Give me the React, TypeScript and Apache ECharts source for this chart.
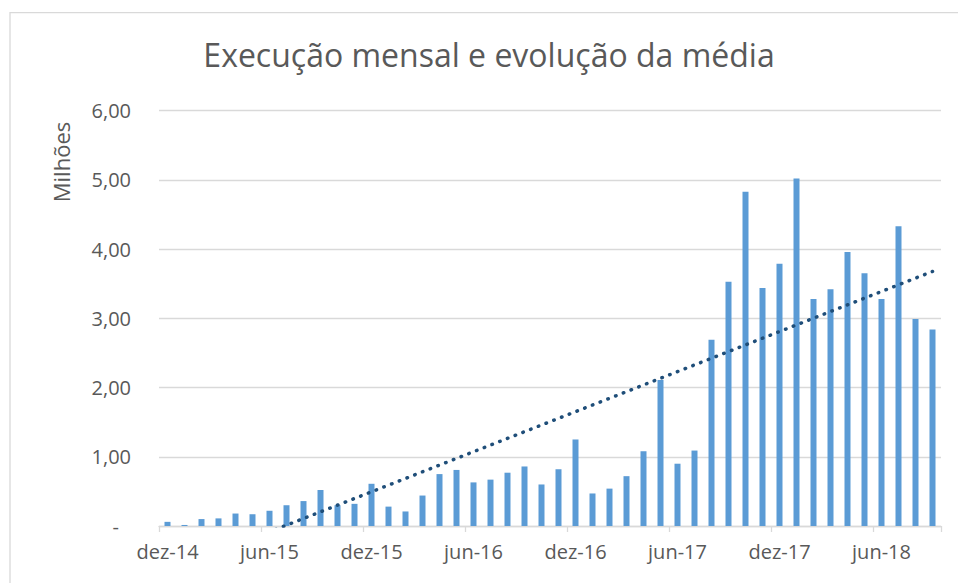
import React, { useEffect, useRef } from "react";
import * as echarts from "echarts";

const months = [
  "dez-14",
  "jan-15", "fev-15", "mar-15", "abr-15", "mai-15", "jun-15", "jul-15", "ago-15", "set-15", "out-15", "nov-15", "dez-15",
  "jan-16", "fev-16", "mar-16", "abr-16", "mai-16", "jun-16", "jul-16", "ago-16", "set-16", "out-16", "nov-16", "dez-16",
  "jan-17", "fev-17", "mar-17", "abr-17", "mai-17", "jun-17", "jul-17", "ago-17", "set-17", "out-17", "nov-17", "dez-17",
  "jan-18", "fev-18", "mar-18", "abr-18", "mai-18", "jun-18", "jul-18", "ago-18", "set-18",
];

// Monthly execution, in millions
const execucao = [
  0.06, 0.015, 0.1, 0.11, 0.18, 0.17, 0.22, 0.3, 0.36, 0.52, 0.3, 0.32, 0.61,
  0.28, 0.21, 0.44, 0.75, 0.81, 0.63, 0.67, 0.77, 0.86, 0.6, 0.82, 1.25,
  0.47, 0.54, 0.72, 1.08, 2.11, 0.9, 1.09, 2.69, 3.53, 4.83, 3.44, 3.79,
  5.02, 3.28, 3.42, 3.96, 3.65, 3.28, 4.33, 2.99, 2.84,
];

const yTicks = [0, 1, 2, 3, 4, 5, 6];

const titleText = "Execução mensal e evolução da média";
const yAxisTitle = "Milhões";

// Linear trendline (least squares) of the monthly values, as Excel draws it
function linearTrend(values: number[]): number[] {
  const n = values.length;
  let sx = 0, sy = 0, sxy = 0, sxx = 0;
  values.forEach((v, i) => {
    sx += i; sy += v; sxy += i * v; sxx += i * i;
  });
  const slope = (n * sxy - sx * sy) / (n * sxx - sx * sx);
  const intercept = (sy - slope * sx) / n;
  return values.map((_, i) => intercept + slope * i);
}

const FONT = '"Open Sans", "Noto Sans", sans-serif';
const TEXT_COLOR = "#595959";
const GRID_COLOR = "#d9d9d9";

export default function App() {
  const ref = useRef<HTMLDivElement>(null);

  useEffect(() => {
    document.body.style.margin = "0";
    if (!ref.current) return;
    const chart = echarts.init(ref.current, undefined, { renderer: "svg" });
    const trend = linearTrend(execucao);

    chart.setOption({
      animation: false,
      backgroundColor: "#ffffff",
      grid: { left: 159, right: 17, top: 110.7, bottom: 57, containLabel: false },
      xAxis: {
        type: "category",
        data: months,
        boundaryGap: true,
        axisLine: { show: true, lineStyle: { color: GRID_COLOR, width: 1.3 } },
        axisTick: { show: true, interval: 5, length: 6, lineStyle: { color: GRID_COLOR, width: 1.3 } },
        axisLabel: {
          interval: 5,
          color: TEXT_COLOR,
          fontSize: 20,
          fontFamily: FONT,
          margin: 15,
        },
      },
      yAxis: {
        type: "value",
        min: yTicks[0],
        max: yTicks[yTicks.length - 1],
        interval: 1,
        axisLine: { show: false },
        axisTick: { show: false },
        splitLine: { show: true, lineStyle: { color: GRID_COLOR, width: 1.3 } },
        axisLabel: {
          color: TEXT_COLOR,
          fontSize: 20,
          fontFamily: FONT,
          margin: 28,
          formatter: (v: number) =>
            v === 0 ? "{z|-}" : v.toFixed(2).replace(".", ","),
          rich: {
            z: { padding: [0, 12, 0, 0], fontSize: 20, fontFamily: FONT, color: TEXT_COLOR },
          },
        },
      },
      series: [
        {
          type: "bar",
          data: execucao,
          barWidth: 6,
          itemStyle: { color: "#5B9BD5" },
          z: 2,
        },
        {
          type: "line",
          data: trend,
          symbol: "none",
          clip: true,
          z: 3,
          lineStyle: {
            color: "#1F4E79",
            width: 3.5,
            type: [0.5, 7.8],
            cap: "round",
          },
        },
      ],
      graphic: [
        {
          type: "rect",
          z: -1,
          shape: { x: 10, y: 12.7, width: 960, height: 620 },
          style: { fill: "none", stroke: GRID_COLOR, lineWidth: 1.3 },
          silent: true,
        },
        {
          type: "text",
          x: 489,
          y: 54,
          style: {
            text: titleText,
            fill: TEXT_COLOR,
            font: `32px ${FONT}`,
            textAlign: "center",
            textVerticalAlign: "middle",
          },
          silent: true,
        },
        {
          type: "text",
          x: 61,
          y: 162,
          rotation: Math.PI / 2,
          style: {
            text: yAxisTitle,
            fill: TEXT_COLOR,
            font: `22px ${FONT}`,
            textAlign: "center",
            textVerticalAlign: "middle",
          },
          silent: true,
        },
      ],
    });

    return () => chart.dispose();
  }, []);

  return <div ref={ref} style={{ width: 958, height: 583 }} />;
}
